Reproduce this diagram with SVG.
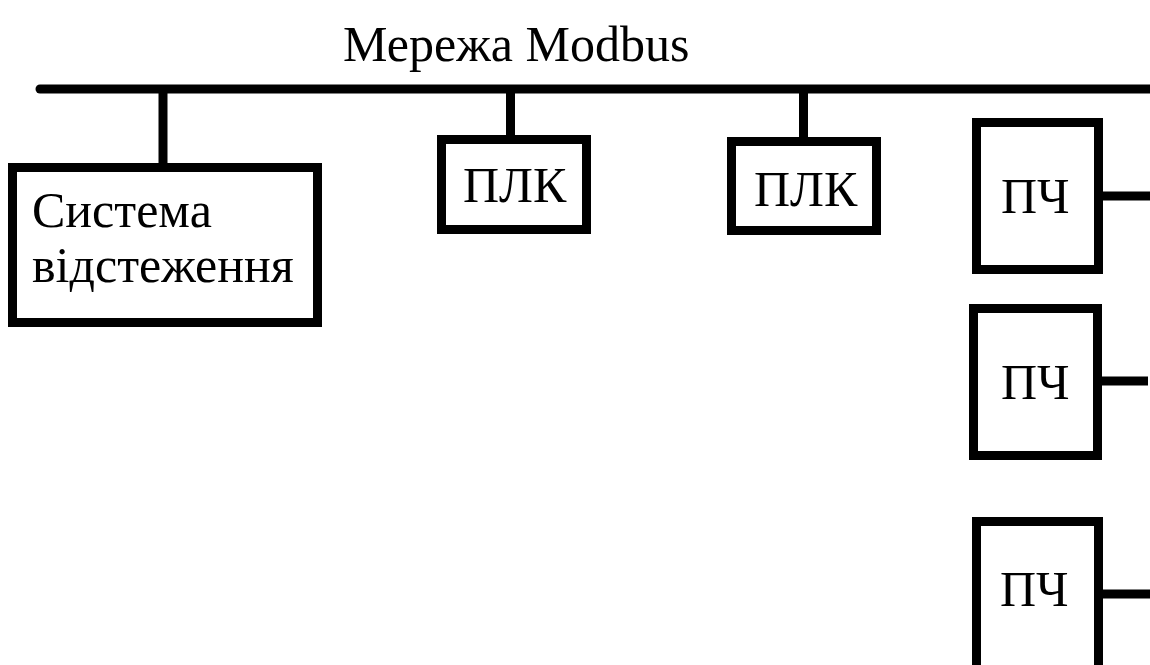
<svg xmlns="http://www.w3.org/2000/svg" width="1150" height="665" viewBox="0 0 1150 665">
  <style>
    .box { fill: #ffffff; stroke: #000000; stroke-width: 9; }
    .wire { fill: none; stroke: #000000; stroke-width: 9; }
    .lbl { font-family: "Liberation Serif", "Times New Roman", serif; font-size: 50px; fill: #000000; }
  </style>
  <rect width="1150" height="665" fill="#ffffff"/>

  <text class="lbl" x="343" y="61">Мережа Modbus</text>

  <g id="connectors">
    <line class="wire" x1="40" y1="89" x2="1150" y2="89" stroke-linecap="round"/>
    <line class="wire" x1="163" y1="89" x2="163" y2="167"/>
    <line class="wire" x1="510.5" y1="89" x2="510.5" y2="139"/>
    <line class="wire" x1="803.5" y1="89" x2="803.5" y2="141"/>
    <line class="wire" x1="1103" y1="196" x2="1150" y2="196"/>
    <line class="wire" x1="1102" y1="381" x2="1148" y2="381"/>
    <line class="wire" x1="1103" y1="594" x2="1150" y2="594"/>
  </g>

  <g id="tracking">
    <rect class="box" x="12.5" y="167.5" width="305" height="155"/>
    <text class="lbl" x="32" y="227">Система</text>
    <text class="lbl" x="32" y="282">відстеження</text>
  </g>

  <g id="plc1">
    <rect class="box" x="441.5" y="139.5" width="145" height="90"/>
    <text class="lbl" x="463" y="202">ПЛК</text>
  </g>

  <g id="plc2">
    <rect class="box" x="731.5" y="141.5" width="145" height="89"/>
    <text class="lbl" x="754" y="206">ПЛК</text>
  </g>

  <g id="vfd1">
    <rect class="box" x="976.5" y="122.5" width="122" height="147"/>
    <text class="lbl" x="1001" y="213">ПЧ</text>
  </g>

  <g id="vfd2">
    <rect class="box" x="973.5" y="308.5" width="124" height="147"/>
    <text class="lbl" x="1001" y="399">ПЧ</text>
  </g>

  <g id="vfd3">
    <rect class="box" x="976.5" y="521.5" width="122" height="160"/>
    <text class="lbl" x="1000" y="606">ПЧ</text>
  </g>
</svg>
